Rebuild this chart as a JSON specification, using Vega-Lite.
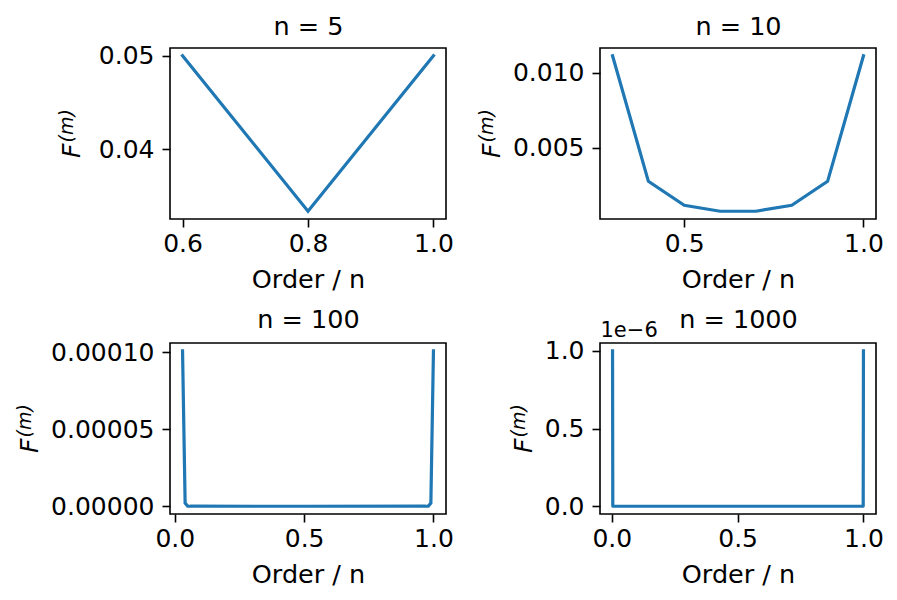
{
  "$schema": "https://vega.github.io/schema/vega-lite/v6.json",
  "background": "white",
  "padding": {"left": 14, "top": 13, "right": 5, "bottom": 5},
  "datasets": {
    "n5": [
      {"order": 0.6, "F": 0.05},
      {"order": 0.8, "F": 0.033333},
      {"order": 1.0, "F": 0.05}
    ],
    "n10": [
      {"order": 0.3, "F": 0.011111},
      {"order": 0.4, "F": 0.0027778},
      {"order": 0.5, "F": 0.0011905},
      {"order": 0.6, "F": 0.00079365},
      {"order": 0.7, "F": 0.00079365},
      {"order": 0.8, "F": 0.0011905},
      {"order": 0.9, "F": 0.0027778},
      {"order": 1.0, "F": 0.011111}
    ],
    "n100": [
      {"order": 0.03, "F": 0.00010101},
      {"order": 0.04, "F": 0.0000020614},
      {"order": 0.05, "F": 0.000000063756},
      {"order": 0.06, "F": 0.0000000027},
      {"order": 0.5, "F": 0},
      {"order": 0.97, "F": 0.0000000027},
      {"order": 0.98, "F": 0.000000063756},
      {"order": 0.99, "F": 0.0000020614},
      {"order": 1.0, "F": 0.00010101}
    ],
    "n1000": [
      {"order": 0.003, "F_e6": 1.001},
      {"order": 0.004, "F_e6": 0.002006},
      {"order": 0.005, "F_e6": 0.000006},
      {"order": 0.5, "F_e6": 0},
      {"order": 0.998, "F_e6": 0.000006},
      {"order": 0.999, "F_e6": 0.002006},
      {"order": 1.0, "F_e6": 1.001}
    ]
  },
  "columns": 2,
  "spacing": {"row": 124, "column": 154},
  "bounds": "flush",
  "concat": [
    {
      "width": 276, "height": 171,
      "data": {"name": "n5"},
      "layer": [
        {
          "mark": {"type": "line", "clip": false},
          "encoding": {
            "x": {"field": "order", "type": "quantitative",
                  "scale": {"domain": [0.58, 1.02], "nice": false, "zero": false},
                  "axis": {"values": [0.6, 0.8, 1.0], "format": ".1f", "title": "Order / n"}},
            "y": {"field": "F", "type": "quantitative",
                  "scale": {"domain": [0.0325, 0.050833], "nice": false, "zero": false},
                  "axis": {"values": [0.04, 0.05], "format": ".2f", "title": "F", "titleX": -90.7}}
          }
        },
        {
          "mark": {"type": "line", "clip": false, "opacity": 0},
          "encoding": {
            "x": {"field": "order", "type": "quantitative",
                  "axis": {"orient": "top", "labels": false, "ticks": false, "domain": false, "title": "n = 5",
                           "titleX": 138, "titleY": -14, "titleAlign": "center", "titleAnchor": null}},
            "y": {"field": "F", "type": "quantitative",
                  "axis": {"orient": "right", "labels": false, "ticks": false, "domain": false, "title": "(m)",
                           "titleX": -373.7, "titleAngle": -90, "titleFontStyle": "italic"}}
          }
        }
      ],
      "resolve": {"axis": {"x": "independent", "y": "independent"}}
    },
    {
      "width": 276, "height": 171,
      "data": {"name": "n10"},
      "layer": [
        {
          "mark": {"type": "line", "clip": false},
          "encoding": {
            "x": {"field": "order", "type": "quantitative",
                  "scale": {"domain": [0.265, 1.035], "nice": false, "zero": false},
                  "axis": {"values": [0.5, 1.0], "format": ".1f", "title": "Order / n"}},
            "y": {"field": "F", "type": "quantitative",
                  "scale": {"domain": [0.000278, 0.011627], "nice": false, "zero": false},
                  "axis": {"values": [0.005, 0.01], "format": ".3f", "title": "F", "titleX": -100.6}}
          }
        },
        {
          "mark": {"type": "line", "clip": false, "opacity": 0},
          "encoding": {
            "x": {"field": "order", "type": "quantitative",
                  "axis": {"orient": "top", "labels": false, "ticks": false, "domain": false, "title": "n = 10",
                           "titleX": 138, "titleY": -14, "titleAlign": "center", "titleAnchor": null}},
            "y": {"field": "F", "type": "quantitative",
                  "axis": {"orient": "right", "labels": false, "ticks": false, "domain": false, "title": "(m)",
                           "titleX": -383.6, "titleAngle": -90, "titleFontStyle": "italic"}}
          }
        }
      ],
      "resolve": {"axis": {"x": "independent", "y": "independent"}}
    },
    {
      "width": 276, "height": 171,
      "data": {"name": "n100"},
      "layer": [
        {
          "mark": {"type": "line", "clip": false},
          "encoding": {
            "x": {"field": "order", "type": "quantitative",
                  "scale": {"domain": [-0.0185, 1.0485], "nice": false, "zero": false},
                  "axis": {"values": [0, 0.5, 1.0], "format": ".1f", "title": "Order / n"}},
            "y": {"field": "F", "type": "quantitative",
                  "scale": {"domain": [-0.00000505, 0.00010606], "nice": false, "zero": false},
                  "axis": {"values": [0, 0.00005, 0.0001], "format": ".5f", "title": "F", "titleX": -133}}
          }
        },
        {
          "mark": {"type": "line", "clip": false, "opacity": 0},
          "encoding": {
            "x": {"field": "order", "type": "quantitative",
                  "axis": {"orient": "top", "labels": false, "ticks": false, "domain": false, "title": "n = 100",
                           "titleX": 138, "titleY": -16, "titleAlign": "center", "titleAnchor": null}},
            "y": {"field": "F", "type": "quantitative",
                  "axis": {"orient": "right", "labels": false, "ticks": false, "domain": false, "title": "(m)",
                           "titleX": -416, "titleAngle": -90, "titleFontStyle": "italic"}}
          }
        }
      ],
      "resolve": {"axis": {"x": "independent", "y": "independent"}}
    },
    {
      "width": 276, "height": 171,
      "data": {"name": "n1000"},
      "layer": [
        {
          "mark": {"type": "line", "clip": false},
          "encoding": {
            "x": {"field": "order", "type": "quantitative",
                  "scale": {"domain": [-0.04685, 1.04985], "nice": false, "zero": false},
                  "axis": {"values": [0, 0.5, 1.0], "format": ".1f", "title": "Order / n"}},
            "y": {"field": "F_e6", "type": "quantitative",
                  "scale": {"domain": [-0.05005, 1.05105], "nice": false, "zero": false},
                  "axis": {"values": [0, 0.5, 1.0], "format": ".1f", "title": "F", "titleX": -68.3}}
          }
        },
        {
          "mark": {"type": "line", "clip": false, "opacity": 0},
          "encoding": {
            "x": {"field": "order", "type": "quantitative",
                  "axis": {"orient": "top", "labels": false, "ticks": false, "domain": false, "title": "n = 1000",
                           "titleX": 138, "titleY": -16, "titleAlign": "center", "titleAnchor": null}},
            "y": {"field": "F_e6", "type": "quantitative",
                  "axis": {"orient": "right", "labels": false, "ticks": false, "domain": false, "title": "1e−6",
                           "titleAngle": 360, "titleX": -276, "titleY": -6.7, "titleAlign": "left",
                           "titleFontSize": 21, "titleFontStyle": "normal"}}
          }
        },
        {
          "mark": {"type": "line", "clip": false, "opacity": 0},
          "encoding": {
            "x": {"field": "order", "type": "quantitative", "axis": null},
            "y": {"field": "F_e6", "type": "quantitative",
                  "axis": {"orient": "right", "labels": false, "ticks": false, "domain": false, "title": "(m)",
                           "titleX": -351.3, "titleAngle": -90, "titleFontStyle": "italic"}}
          }
        }
      ],
      "resolve": {"axis": {"x": "independent", "y": "independent"}}
    }
  ],
  "config": {
    "font": "DejaVu Sans",
    "view": {"stroke": "black", "strokeWidth": 1.6},
    "axis": {
      "grid": false, "domain": false,
      "tickColor": "black", "tickSize": 8, "tickWidth": 1.6,
      "labelFont": "DejaVu Sans", "labelFontSize": 25, "labelColor": "black",
      "labelFlush": false, "labelOverlap": false, "labelBound": false,
      "titleFont": "DejaVu Sans", "titleFontSize": 25.5, "titleFontWeight": "normal", "titleColor": "black",
      "titleBaseline": "alphabetic"
    },
    "axisBottom": {"labelPadding": 4, "titleY": 68},
    "axisLeft": {"labelPadding": 8, "titleFontStyle": "italic", "titleAngle": -90, "titleFontSize": 25, "titleAlign": "left", "titleY": 109.5},
    "axisRight": {"titleFontSize": 19, "titleAlign": "left", "titleY": 94},
    "line": {"color": "#1f77b4", "strokeWidth": 3.2, "strokeCap": "square"}
  }
}
